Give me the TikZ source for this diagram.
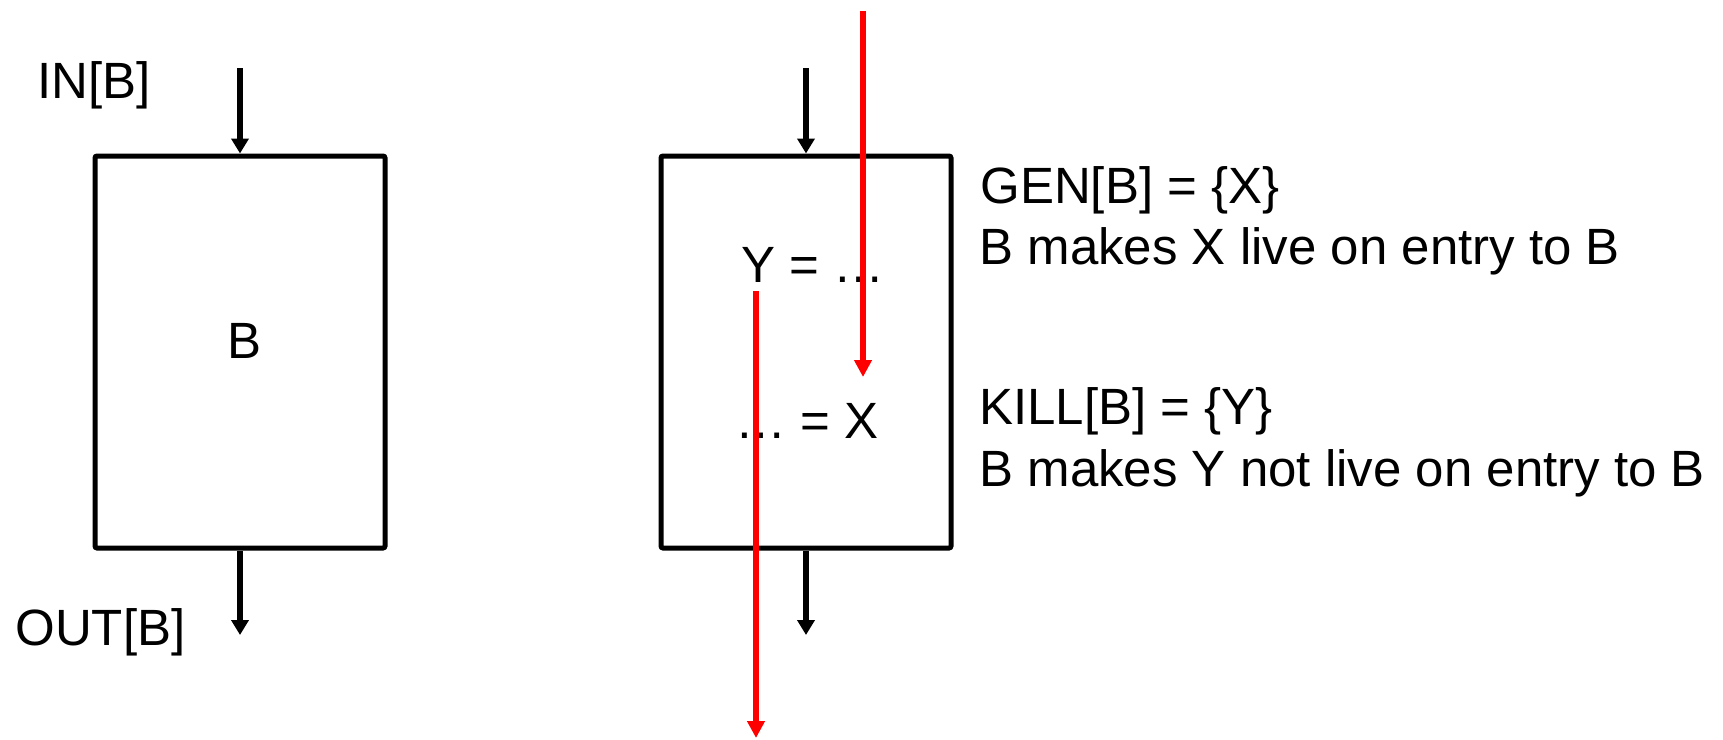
\documentclass[tikz,border=0pt]{standalone}
\usepackage{fontspec}
\setmainfont{Liberation Sans}
\usetikzlibrary{arrows.meta,positioning}

\begin{document}
\begin{tikzpicture}[
  x=0.5pt, y=-0.5pt,
  font=\fontsize{25.5pt}{30pt}\selectfont,
  block/.style={draw, line width=2.5pt, rounded corners=1pt, inner sep=0pt,
    minimum width=145pt, minimum height=196pt},
  lbl/.style={anchor=base west, inner sep=0pt},
  flow/.style={line width=2.6pt, -{Triangle[width=8.5pt,length=7.5pt]}},
  live/.style={red, line width=2.6pt, -{Triangle[width=8.5pt,length=8.5pt]}},
]
  \useasboundingbox (0,0) rectangle (1723,739);

  % left block
  \node[block] (blk) at (240,352) {};
  \node[anchor=base, inner sep=0pt] (name) at (245,358) {B};
  \node[lbl] (inLbl) at (37,98) {IN[B]};
  \node[lbl] (outLbl) at (15,645) {OUT[B]};
  \coordinate (inTop) at (240,68);
  \coordinate (outEnd) at (240,635);
  \draw[flow] (inTop) -- (blk.north);
  \draw[flow] (blk.south) -- (outEnd);

  % right block
  \node[block] (blk2) at (806,352) {};
  \node[lbl] (def) at (741,282) {Y = …};
  \node[lbl] (use) at (735,438) {… = X};
  \coordinate (in2Top) at (806,68);
  \coordinate (out2End) at (806,635);
  \draw[flow] (in2Top) -- (blk2.north);
  \draw[flow] (blk2.south) -- (out2End);

  % gen / kill notes
  \node[lbl] (gen) at (980,203) {GEN[B] = \{X\}};
  \node[lbl] (genTxt) at (979,264) {B makes X live on entry to B};
  \node[lbl] (kill) at (979,424) {KILL[B] = \{Y\}};
  \node[lbl] (killTxt) at (979,486) {B makes Y not live on entry to B};

  % liveness
  \coordinate (xFrom) at (863,11);
  \coordinate (xTo) at (863,377);
  \coordinate (yFrom) at (756,291);
  \coordinate (yTo) at (756,738);
  \draw[live] (xFrom) -- (xTo);
  \draw[live] (yFrom) -- (yTo);
\end{tikzpicture}
\end{document}
